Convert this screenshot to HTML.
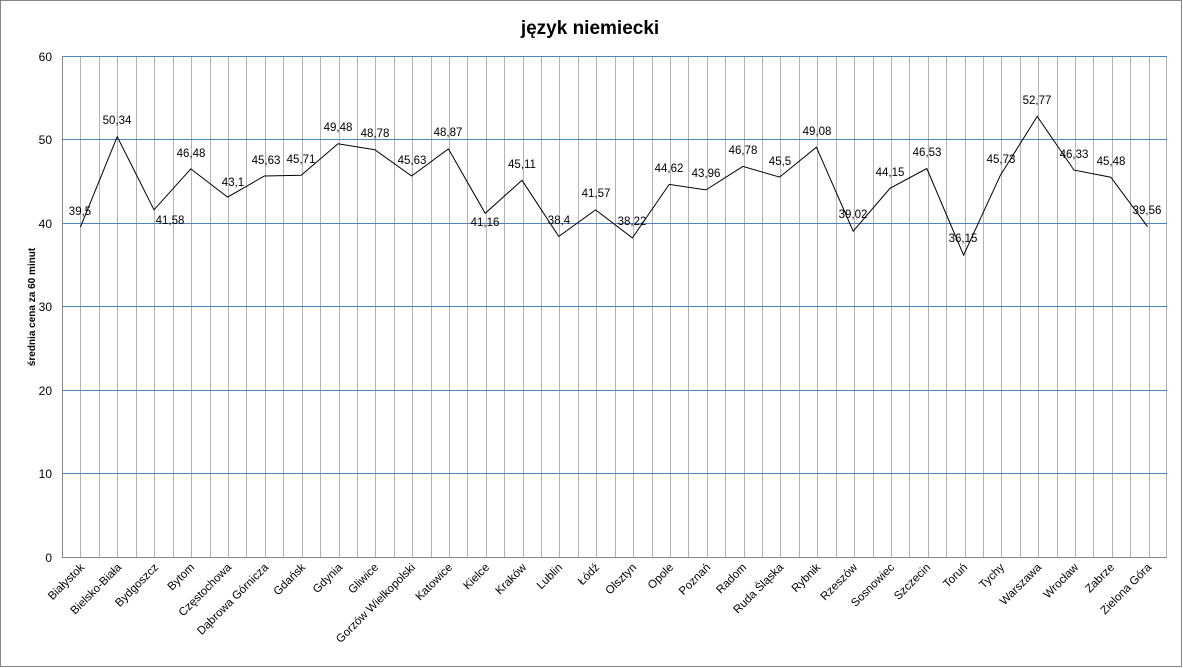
<!DOCTYPE html>
<html><head><meta charset="utf-8"><style>
html,body{margin:0;padding:0;background:#fff}
svg{display:block}
text{font-family:"Liberation Sans","DejaVu Sans",sans-serif}
</style></head><body>
<svg width="1183" height="668" viewBox="0 0 1183 668" xmlns="http://www.w3.org/2000/svg">
<rect x="0.5" y="0.5" width="1181" height="666" fill="#fff" stroke="#868686"/>
<text x="590" y="34" text-anchor="middle" font-size="19" font-weight="bold">język niemiecki</text>
<g stroke="#b3b3b3" stroke-width="1">
<path d="M80.5 56V557M99.5 56V557M117.5 56V557M136.5 56V557M154.5 56V557M173.5 56V557M191.5 56V557M210.5 56V557M228.5 56V557M246.5 56V557M265.5 56V557M283.5 56V557M302.5 56V557M320.5 56V557M339.5 56V557M357.5 56V557M375.5 56V557M394.5 56V557M412.5 56V557M431.5 56V557M449.5 56V557M467.5 56V557M486.5 56V557M504.5 56V557M523.5 56V557M541.5 56V557M559.5 56V557M578.5 56V557M596.5 56V557M615.5 56V557M633.5 56V557M652.5 56V557M670.5 56V557M688.5 56V557M707.5 56V557M725.5 56V557M744.5 56V557M762.5 56V557M780.5 56V557M799.5 56V557M817.5 56V557M836.5 56V557M854.5 56V557M873.5 56V557M891.5 56V557M909.5 56V557M928.5 56V557M946.5 56V557M965.5 56V557M983.5 56V557M1001.5 56V557M1020.5 56V557M1038.5 56V557M1057.5 56V557M1075.5 56V557M1093.5 56V557M1112.5 56V557M1130.5 56V557M1149.5 56V557M1166.5 56V557"/>
</g>
<g stroke="#4f81bd" stroke-width="1">
<path d="M62 56.5H1167M62 139.5H1167M62 223.5H1167M62 306.5H1167M62 390.5H1167M62 473.5H1167"/>
</g>
<path d="M62.5 56V557.5H1167" fill="none" stroke="#868686"/>
<g font-size="12" text-anchor="end">
<text x="52" y="61">60</text><text x="52" y="144">50</text><text x="52" y="228">40</text>
<text x="52" y="311">30</text><text x="52" y="395">20</text><text x="52" y="478">10</text><text x="52" y="562">0</text>
</g>
<text transform="translate(35,307) rotate(-90)" text-anchor="middle" font-size="10" font-weight="bold">średnia cena za 60 minut</text>
<polyline fill="none" stroke="#000" stroke-width="1" points="80.4,227.2 117.2,136.7 154,209.8 190.8,168.9 227.6,197.1 264.4,176 301.2,175.3 338,143.8 374.8,149.7 411.6,176 448.4,148.9 485.2,213.3 522,180.3 558.8,236.4 595.6,209.9 632.4,237.9 669.2,184.4 706,189.9 742.8,166.4 779.6,177.1 816.4,147.2 853.2,231.2 890,188.3 926.8,168.5 963.6,255.1 1000.4,175.2 1037.2,116.4 1074,170.1 1110.8,177.2 1147.6,226.7"/>
<g font-size="11.5" text-anchor="middle">
<text x="80" y="215">39,5</text><text x="117" y="124">50,34</text><text x="170" y="224">41,58</text>
<text x="191" y="157">46,48</text><text x="233" y="186">43,1</text><text x="266" y="164">45,63</text>
<text x="301" y="163">45,71</text><text x="338" y="131">49,48</text><text x="375" y="137">48,78</text>
<text x="412" y="164">45,63</text><text x="448" y="136">48,87</text><text x="485" y="226">41,16</text>
<text x="522" y="168">45,11</text><text x="559" y="224">38,4</text><text x="596" y="197">41,57</text>
<text x="632" y="225">38,22</text><text x="669" y="172">44,62</text><text x="706" y="177">43,96</text>
<text x="743" y="154">46,78</text><text x="780" y="165">45,5</text><text x="817" y="135">49,08</text>
<text x="853" y="218">39,02</text><text x="890" y="176">44,15</text><text x="927" y="156">46,53</text>
<text x="963" y="242">36,15</text><text x="1001" y="163">45,73</text><text x="1037" y="104">52,77</text>
<text x="1074" y="158">46,33</text><text x="1111" y="165">45,48</text><text x="1147" y="214">39,56</text>
</g>
<g font-size="11.5" text-anchor="end">
<text transform="translate(85,568) rotate(-45)">Białystok</text>
<text transform="translate(122,568) rotate(-45)">Bielsko-Biała</text>
<text transform="translate(159,568) rotate(-45)">Bydgoszcz</text>
<text transform="translate(195,568) rotate(-45)">Bytom</text>
<text transform="translate(232,568) rotate(-45)">Częstochowa</text>
<text transform="translate(269,568) rotate(-45)">Dąbrowa Górnicza</text>
<text transform="translate(306,568) rotate(-45)">Gdańsk</text>
<text transform="translate(343,568) rotate(-45)">Gdynia</text>
<text transform="translate(379,568) rotate(-45)">Gliwice</text>
<text transform="translate(416,568) rotate(-45)">Gorzów Wielkopolski</text>
<text transform="translate(453,568) rotate(-45)">Katowice</text>
<text transform="translate(490,568) rotate(-45)">Kielce</text>
<text transform="translate(527,568) rotate(-45)">Kraków</text>
<text transform="translate(563,568) rotate(-45)">Lublin</text>
<text transform="translate(600,568) rotate(-45)">Łódź</text>
<text transform="translate(637,568) rotate(-45)">Olsztyn</text>
<text transform="translate(674,568) rotate(-45)">Opole</text>
<text transform="translate(711,568) rotate(-45)">Poznań</text>
<text transform="translate(747,568) rotate(-45)">Radom</text>
<text transform="translate(784,568) rotate(-45)">Ruda Śląska</text>
<text transform="translate(821,568) rotate(-45)">Rybnik</text>
<text transform="translate(858,568) rotate(-45)">Rzeszów</text>
<text transform="translate(895,568) rotate(-45)">Sosnowiec</text>
<text transform="translate(931,568) rotate(-45)">Szczecin</text>
<text transform="translate(968,568) rotate(-45)">Toruń</text>
<text transform="translate(1005,568) rotate(-45)">Tychy</text>
<text transform="translate(1042,568) rotate(-45)">Warszawa</text>
<text transform="translate(1079,568) rotate(-45)">Wrocław</text>
<text transform="translate(1115,568) rotate(-45)">Zabrze</text>
<text transform="translate(1152,568) rotate(-45)">Zielona Góra</text>
</g>
</svg>
</body></html>
